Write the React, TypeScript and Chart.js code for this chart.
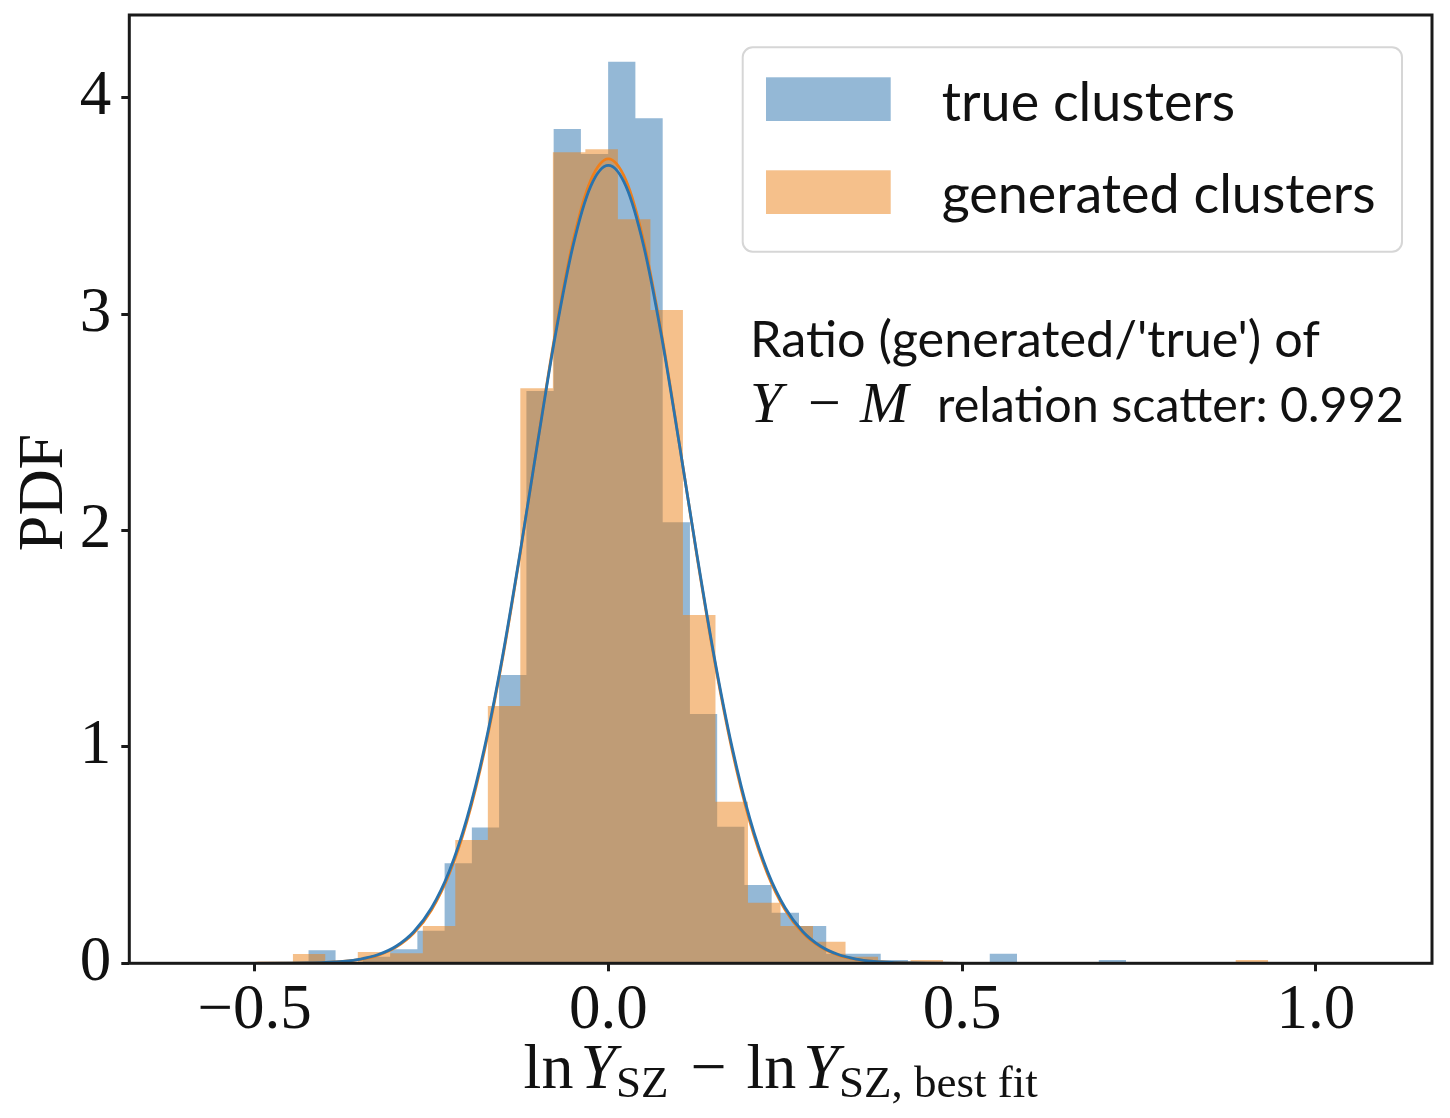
import React, { useEffect, useRef } from "react";
import { Chart, registerables } from "chart.js";

Chart.register(...registerables);

// ---------------- data ----------------
const trueBinEdges = [
  -0.424, -0.3855, -0.347, -0.3084, -0.2699, -0.2314, -0.1929, -0.1544, -0.1158, -0.0773,
  -0.0388, -0.0003, 0.0382, 0.0768, 0.1153, 0.1538, 0.1923, 0.2308, 0.2694, 0.3079,
  0.3464, 0.3849, 0.4234, 0.462, 0.5005, 0.539, 0.5775, 0.616, 0.6546, 0.6931, 0.7316,
];
const trueDensity = [
  0.06, 0.0, 0.03, 0.065, 0.15, 0.462, 0.627, 1.332, 2.645, 3.855,
  3.74, 4.166, 3.905, 2.038, 1.152, 0.631, 0.362, 0.234, 0.172, 0.044,
  0.044, 0.015, 0.0, 0.0, 0.0, 0.044, 0.0, 0.0, 0.0, 0.015,
];
const generatedBinEdges = [
  -0.446, -0.4001, -0.3541, -0.3082, -0.2622, -0.2163, -0.1703, -0.1244, -0.0784, -0.0325,
  0.0135, 0.0595, 0.1054, 0.1514, 0.1973, 0.2433, 0.2892, 0.3352, 0.3811, 0.4271,
  0.473, 0.519, 0.5649, 0.6109, 0.6568, 0.7028, 0.7487, 0.7947, 0.8406, 0.8866, 0.9325,
];
const generatedDensity = [
  0.043, 0.0, 0.052, 0.046, 0.172, 0.57, 1.189, 2.657, 3.748, 3.762,
  3.438, 3.019, 1.61, 0.747, 0.28, 0.172, 0.1, 0.03, 0.0, 0.015,
  0.0, 0.0, 0.0, 0.0, 0.0, 0.0, 0.0, 0.0, 0.0, 0.015,
];
const fitX = [
  -0.593, -0.5, -0.45, -0.425, -0.4, -0.375, -0.35, -0.325, -0.3, -0.275, -0.25, -0.225,
  -0.2, -0.175, -0.15, -0.125, -0.1, -0.075, -0.05, -0.025, 0.0, 0.025, 0.05, 0.075, 0.1,
  0.125, 0.15, 0.175, 0.2, 0.225, 0.25, 0.275, 0.3, 0.325, 0.35, 0.375, 0.4, 0.425, 0.45,
  0.5, 1.08,
];
const trueFitPdf = [
  0, 0.0001, 0.0007, 0.0016, 0.004, 0.0091, 0.0197, 0.0405, 0.0789, 0.1459, 0.2555, 0.4243,
  0.668, 0.997, 1.41, 1.892, 2.405, 2.9, 3.314, 3.59, 3.687, 3.59, 3.314, 2.9, 2.405,
  1.892, 1.41, 0.997, 0.668, 0.4243, 0.2555, 0.1459, 0.0789, 0.0405, 0.0197, 0.0091, 0.004,
  0.0016, 0.0007, 0.0001, 0,
];
const generatedFitPdf = [
  0, 0.0001, 0.0006, 0.0015, 0.0036, 0.0083, 0.0182, 0.038, 0.0748, 0.1395, 0.2467, 0.413,
  0.655, 0.984, 1.4, 1.886, 2.408, 2.912, 3.335, 3.617, 3.717, 3.617, 3.335, 2.912, 2.408,
  1.886, 1.4, 0.984, 0.655, 0.413, 0.2467, 0.1395, 0.0748, 0.038, 0.0182, 0.0083, 0.0036,
  0.0015, 0.0006, 0.0001, 0,
];
const xTickValues = [-0.5, 0.0, 0.5, 1.0];
const yTickValues = [0, 1, 2, 3, 4];
const xAxisRange = [-0.677, 1.164];
const yAxisRange = [0, 4.382];
const seriesLabels = ["true clusters", "generated clusters"];
const annotationLine1 = "Ratio (generated/'true') of";
const annotationLine2 = "relation scatter: 0.992";
const yAxisTitle = "PDF";

// ---------------- styles ----------------
const BLUE = "#2a73ad";
const ORANGE = "#f07f1a";
const BLUE_FILL = "rgba(41,113,173,0.5)";
const ORANGE_FILL = "rgba(235,129,23,0.5)";
const INK = "#111111";
const SERIF = "'Liberation Serif', 'DejaVu Serif', serif";
const SANS = "Lato, 'Open Sans', sans-serif";

function stepPoints(edges: number[], heights: number[]) {
  const pts = heights.map((h, i) => ({ x: edges[i], y: h }));
  pts.push({ x: edges[edges.length - 1], y: 0 });
  return pts;
}

function fitFont(ctx: CanvasRenderingContext2D, text: string, family: string, width: number) {
  ctx.font = `100px ${family}`;
  return (100 * width) / ctx.measureText(text).width;
}

const decorPlugin = {
  id: "decor",
  afterDatasetsDraw(chart: any) {
    const { ctx, chartArea: a } = chart;
    ctx.save();
    // spines
    ctx.strokeStyle = "#1a1a1a";
    ctx.lineWidth = 3;
    ctx.strokeRect(a.left, a.top, a.right - a.left, a.bottom - a.top);

    // legend frame
    const lx = 742.7, ly = 47.3, lw = 1402 - 742.7, lh = 251.7 - 47.3, r = 10;
    ctx.beginPath();
    ctx.moveTo(lx + r, ly);
    ctx.arcTo(lx + lw, ly, lx + lw, ly + lh, r);
    ctx.arcTo(lx + lw, ly + lh, lx, ly + lh, r);
    ctx.arcTo(lx, ly + lh, lx, ly, r);
    ctx.arcTo(lx, ly, lx + lw, ly, r);
    ctx.closePath();
    ctx.fillStyle = "rgba(255,255,255,0.8)";
    ctx.fill();
    ctx.strokeStyle = "#d6d6d6";
    ctx.lineWidth = 2;
    ctx.stroke();

    const ds = chart.data.datasets;
    const patches = [ds[3].backgroundColor, ds[2].backgroundColor];
    const lsize = fitFont(ctx, seriesLabels[1], SANS, 434);
    const rows = [
      { top: 77.3, base: 121 },
      { top: 170.3, base: 213.3 },
    ];
    rows.forEach((row, i) => {
      ctx.fillStyle = patches[i];
      ctx.fillRect(766, row.top, 124.7, 43.7);
      ctx.fillStyle = INK;
      ctx.font = `${lsize}px ${SANS}`;
      ctx.textAlign = "left";
      ctx.textBaseline = "alphabetic";
      ctx.fillText(seriesLabels[i], 941.7, row.base);
    });

    // annotation
    ctx.fillStyle = INK;
    ctx.font = `${fitFont(ctx, annotationLine1, SANS, 570)}px ${SANS}`;
    ctx.fillText(annotationLine1, 750, 357);
    ctx.font = `${fitFont(ctx, annotationLine2, SANS, 467)}px ${SANS}`;
    ctx.fillText(annotationLine2, 937, 422);
    ctx.font = `italic 58px ${SERIF}`;
    ctx.fillText("Y", 750, 422);
    ctx.fillText("M", 860, 422);
    ctx.font = `58px ${SERIF}`;
    ctx.fillText("\u2212", 808, 422);
    ctx.restore();
  },
  afterDraw(chart: any) {
    const { ctx, chartArea: a } = chart;
    ctx.save();
    ctx.fillStyle = INK;
    ctx.textBaseline = "alphabetic";
    // y title
    ctx.save();
    ctx.translate(62, 492.5);
    ctx.rotate(-Math.PI / 2);
    ctx.textAlign = "center";
    ctx.font = `64px ${SERIF}`;
    ctx.fillText(yAxisTitle, 0, 0);
    ctx.restore();

    // x title: ln Y_SZ − ln Y_SZ, best fit
    const R = `64px ${SERIF}`;
    const I = `italic 64px ${SERIF}`;
    const S = `45px ${SERIF}`;
    const segs = [
      { t: "ln", f: R, gap: 0, dy: 0 },
      { t: "Y", f: I, gap: 7, dy: 0 },
      { t: "SZ", f: S, gap: 0, dy: 9 },
      { t: "\u2212", f: R, gap: 22, dy: 0 },
      { t: "ln", f: R, gap: 20, dy: 0 },
      { t: "Y", f: I, gap: 7, dy: 0 },
      { t: "SZ, best fit", f: S, gap: 0, dy: 9 },
    ];
    let total = 0;
    const widths = segs.map((s) => {
      ctx.font = s.f;
      const w = ctx.measureText(s.t).width;
      total += s.gap + w;
      return w;
    });
    let x = (a.left + a.right) / 2 - total / 2;
    ctx.textAlign = "left";
    segs.forEach((s, i) => {
      x += s.gap;
      ctx.font = s.f;
      ctx.fillText(s.t, x, 1088 + s.dy);
      x += widths[i];
    });
    ctx.restore();
  },
};

export default function App() {
  const ref = useRef<HTMLCanvasElement | null>(null);

  useEffect(() => {
    document.body.style.margin = "0";
    document.body.style.overflow = "hidden";
    const canvas = ref.current;
    if (!canvas) return;

    const tickFont = { family: SERIF, size: 63 };
    const chart = new Chart(canvas, {
      type: "line",
      data: {
        datasets: [
          {
            label: "true fit",
            data: fitX.map((x, i) => ({ x, y: trueFitPdf[i] })),
            borderColor: BLUE,
            borderWidth: 2.8,
            pointRadius: 0,
            fill: false,
            cubicInterpolationMode: "monotone",
          },
          {
            label: "generated fit",
            data: fitX.map((x, i) => ({ x, y: generatedFitPdf[i] })),
            borderColor: ORANGE,
            borderWidth: 2.8,
            pointRadius: 0,
            fill: false,
            cubicInterpolationMode: "monotone",
          },
          {
            label: seriesLabels[1],
            data: stepPoints(generatedBinEdges, generatedDensity),
            stepped: "before",
            fill: "origin",
            backgroundColor: ORANGE_FILL,
            borderColor: "rgba(0,0,0,0)",
            borderWidth: 0,
            pointRadius: 0,
          },
          {
            label: seriesLabels[0],
            data: stepPoints(trueBinEdges, trueDensity),
            stepped: "before",
            fill: "origin",
            backgroundColor: BLUE_FILL,
            borderColor: "rgba(0,0,0,0)",
            borderWidth: 0,
            pointRadius: 0,
          },
        ],
      } as any,
      options: {
        responsive: false,
        animation: false,
        devicePixelRatio: 1,
        events: [],
        layout: { padding: { top: 15, right: 18, left: 0, bottom: 0 } },
        plugins: {
          legend: { display: false },
          tooltip: { enabled: false },
        },
        elements: { point: { radius: 0, hoverRadius: 0 } },
        scales: {
          x: {
            type: "linear",
            min: xAxisRange[0],
            max: xAxisRange[1],
            afterBuildTicks: (s: any) => {
              s.ticks = xTickValues.map((v) => ({ value: v }));
            },
            afterFit: (s: any) => {
              s.height = 1118 - 963.3;
              s.paddingLeft = 0;
              s.paddingRight = 0;
              s.paddingTop = 0;
              s.paddingBottom = 0;
            },
            grid: {
              drawOnChartArea: false,
              drawTicks: true,
              tickLength: 8,
              tickWidth: 3,
              tickColor: "#1a1a1a",
            },
            border: { display: false },
            ticks: {
              font: tickFont,
              color: INK,
              padding: 2,
              maxRotation: 0,
              autoSkip: false,
              callback: (v: any) => {
                const n = Number(v);
                return (n < 0 ? "\u2212" : "") + Math.abs(n).toFixed(1);
              },
            },
          },
          y: {
            type: "linear",
            min: yAxisRange[0],
            max: yAxisRange[1],
            afterBuildTicks: (s: any) => {
              s.ticks = yTickValues.map((v) => ({ value: v }));
            },
            afterFit: (s: any) => {
              s.width = 129.3;
              s.paddingLeft = 0;
              s.paddingRight = 0;
              s.paddingTop = 0;
              s.paddingBottom = 0;
            },
            grid: {
              drawOnChartArea: false,
              drawTicks: true,
              tickLength: 8,
              tickWidth: 3,
              tickColor: "#1a1a1a",
            },
            border: { display: false },
            ticks: {
              font: tickFont,
              color: INK,
              padding: 10,
              autoSkip: false,
              callback: (v: any) => String(Number(v)),
            },
          },
        },
      } as any,
      plugins: [decorPlugin],
    });
    return () => chart.destroy();
  }, []);

  return (
    <div style={{ width: 1450, height: 1118, background: "#fff" }}>
      <canvas ref={ref} width={1450} height={1118} style={{ display: "block" }} />
    </div>
  );
}
